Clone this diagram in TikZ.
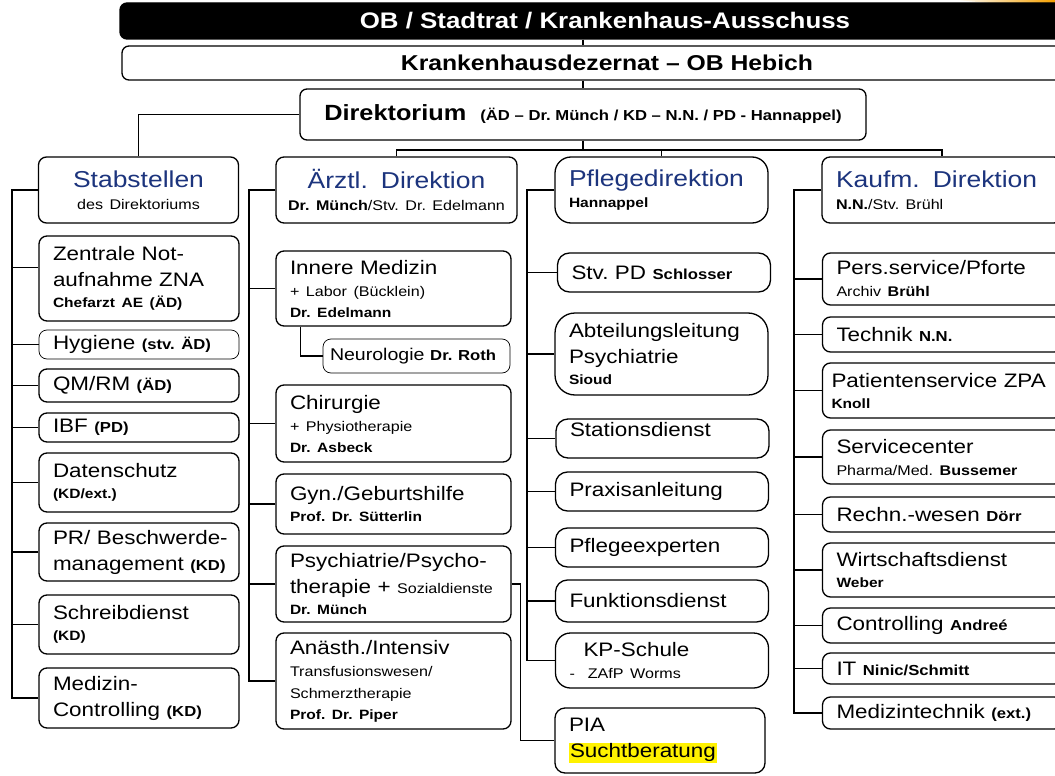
\documentclass[tikz,border=0pt]{standalone}
\usepackage{fontspec}
\setmainfont{Liberation Sans}[FakeStretch=1.15]

\definecolor{headblue}{RGB}{28,52,125}
\definecolor{logoorange}{RGB}{245,160,0}

% font sizes
\newcommand{\titlefs}{\fontsize{22.5}{27}\selectfont\bfseries}
\newcommand{\mainfs}{\fontsize{19.5}{26}\selectfont}
\newcommand{\subfs}{\fontsize{14}{22}\selectfont}
\newcommand{\namefs}{\fontsize{13.5}{21}\selectfont\bfseries}
\newcommand{\tagfs}{\fontsize{14.5}{18}\selectfont\bfseries}
\newcommand{\headfs}{\fontsize{23}{28}\selectfont\color{headblue}}

\tikzset{
  bar/.style={draw, line width=1.3pt, rounded corners=7pt, minimum width=970pt, font=\titlefs},
  unit/.style={draw, line width=1.3pt, rounded corners=8pt, fill=white, align=left,
    inner xsep=14pt, inner ysep=2pt, font=\mainfs},
  colA/.style={unit, minimum width=200pt, text width=172pt},
  colB/.style={unit, minimum width=235pt, text width=207pt},
  colC/.style={unit, minimum width=213pt, text width=185pt, rounded corners=12pt},
  colD/.style={unit, minimum width=240pt, text width=212pt},
  thinunit/.style={line width=0.7pt},
  link/.style={line width=1.3pt}
}

\begin{document}
\begin{tikzpicture}[x=1pt, y=-1pt]
  % Page frame
  \useasboundingbox (0,0) rectangle (1055,776);
  \clip (0,0) rectangle (1055,776);

  % Corner of the logo
  \shade[left color=white, right color=logoorange] (955,0) .. controls (1000,4) .. (1055,4) -- (1055,0) -- cycle;

  % Top levels
  \node[bar, fill=black, text=white, minimum height=36pt] (ob) at (605,21) {OB~/~Stadtrat~/~Krankenhaus-Ausschuss};
  \node[bar, fill=white, minimum height=34pt, font=\fontsize{21.5}{26}\selectfont\bfseries] (dez) at (607,63)
    {Krankenhausdezernat~–~OB~Hebich};
  \node[bar, fill=white, minimum width=566pt, minimum height=51pt, font=\fontsize{22}{26}\selectfont\bfseries] (dir) at (583,114.5)
    {Direktorium~~{\fontsize{14.5}{18}\selectfont(ÄD~–~Dr.~Münch~/~KD~–~N.N.~/~PD~-~Hannappel)}};

  \draw[link] (ob.south -| dir.north) -- (dez.north -| dir.north);
  \draw[link] (dez.south -| dir.north) -- (dir.north);

  % Heads of the four columns
  \node[colA, align=center, minimum height=66pt] (stab) at (138.5,190)
    {{\headfs Stabstellen\par}{\subfs des~Direktoriums\par}};
  \node[colB, align=center, minimum width=241pt, text width=231pt, inner xsep=5pt, minimum height=66pt] (aerztl) at (396.5,190)
    {{\headfs Ärztl.~~Direktion\par}{\subfs\textbf{Dr.~Münch}/Stv.~Dr.~Edelmann\par}};
  \node[colC, rounded corners=16pt, minimum height=66pt] (pflege) at (661.5,190)
    {{\headfs Pflegedirektion\par}{\namefs Hannappel\par}};
  \node[colD, minimum height=66pt] (kaufm) at (942,190)
    {{\headfs Kaufm.~~Direktion\par}{\subfs\textbf{N.N.}/Stv.~Brühl\par}};

  \coordinate (bus) at (583,150);
  \draw[link] (dir.west) -| (stab.north);
  \draw[link] (dir.south) -- (bus);
  \draw[link] (aerztl.north) |- (bus) -| (kaufm.north);
  \draw[link] (pflege.north) -- (pflege.north |- bus);

  % Stabstellen
  \node[colA, minimum height=85pt] (zna) at (139,278.5)
    {Zentrale~Not-\par aufnahme~ZNA\par{\namefs Chefarzt~AE~(ÄD)\par}};
  \node[colA, thinunit, minimum height=29pt] (hyg) at (139,344.5) {Hygiene~{\tagfs(stv.~ÄD)}};
  \node[colA, minimum height=33pt] (qm) at (139,385.5) {QM/RM~{\tagfs(ÄD)}};
  \node[colA, minimum height=29pt] (ibf) at (139,427.5) {IBF~{\tagfs(PD)}};
  \node[colA, minimum height=59pt] (dsch) at (139,482.5) {Datenschutz\par{\namefs(KD/ext.)\par}};
  \node[colA, minimum height=58pt] (pr) at (139,552) {\mbox{PR/ Beschwerde-}\par management~{\tagfs(KD)}};
  \node[colA, minimum height=59pt] (schreib) at (139,624.5) {Schreibdienst\par{\namefs(KD)\par}};
  \node[colA, minimum height=60pt] (medctrl) at (139,698) {Medizin-\par Controlling~{\tagfs(KD)}};

  \coordinate (s1) at (12,190);
  \draw[link] (stab.west) -- (s1) |- (medctrl.west);
  \draw[link] ([yshift=11pt]zna.west) -- ([yshift=11pt]zna.west -| s1);
  \foreach \n in {hyg,qm,ibf,dsch,pr,schreib}
    \draw[link] (\n.west) -- (\n.west -| s1);

  % Aerztliche Direktion
  \node[colB, minimum height=75pt] (innere) at (393.5,288.5)
    {Innere~Medizin\par{\subfs +~Labor~(Bücklein)\par}{\namefs Dr.~Edelmann\par}};
  \node[unit, thinunit, minimum width=187pt, text width=173pt, inner xsep=7pt, minimum height=34pt,
    font=\fontsize{17}{20}\selectfont] (neuro) at (416.5,356) {Neurologie~{\tagfs Dr.~Roth}};
  \node[colB, minimum height=77pt] (chir) at (393.5,423.5)
    {Chirurgie\par{\subfs +~Physiotherapie\par}{\namefs Dr.~Asbeck\par}};
  \node[colB, minimum height=60pt] (gyn) at (393.5,504)
    {Gyn./Geburtshilfe\par{\namefs Prof.~Dr.~Sütterlin\par}};
  \node[colB, minimum height=76pt] (psych) at (393.5,584)
    {\mbox{Psychiatrie/Psycho-}\par therapie~+~{\subfs Sozialdienste}\par{\namefs Dr.~Münch\par}};
  \node[colB, minimum height=96pt] (anae) at (393.5,681)
    {Anästh./Intensiv\par{\subfs Transfusionswesen/\par Schmerztherapie\par}{\namefs Prof.~Dr.~Piper\par}};

  \coordinate (s2) at (249,190);
  \draw[link] (aerztl.west) -- (s2) |- (anae.west);
  \foreach \n in {innere,chir,gyn,psych}
    \draw[link] (\n.west) -- (\n.west -| s2);
  \draw[link] ([xshift=25pt]innere.south west) |- (neuro.west);

  % Pflegedirektion
  \node[colC, minimum height=39pt] (stvpd) at (664,272.5) {Stv.~PD~{\tagfs Schlosser}};
  \node[colC, rounded corners=20pt, minimum height=82pt] (abt) at (661.5,354)
    {Abteilungsleitung\par Psychiatrie\par{\namefs Sioud\par}};
  \node[colC, minimum height=39pt, text depth=19pt] (station) at (662.5,438.5) {Stationsdienst};
  \node[colC, minimum height=39pt] (praxis) at (662,491.5) {Praxisanleitung};
  \node[colC, minimum height=39pt] (experten) at (662,547.5) {Pflegeexperten};
  \node[colC, minimum height=42pt] (funktion) at (662,601) {Funktionsdienst};
  \node[colC, rounded corners=15pt, minimum height=55pt] (kpschule) at (662,660.5)
    {\hspace*{14pt}KP-Schule\par{\subfs -~~ZAfP~Worms\par}};
  \node[colC, rounded corners=10pt, minimum width=210pt, text width=182pt, minimum height=65pt] (pia) at (660,740.5)
    {PIA\par{\setlength{\fboxsep}{1pt}\colorbox{yellow}{Suchtberatung}\par}};

  \coordinate (s3) at (527,190);
  \draw[link] (pflege.west) -- (s3) |- (kpschule.west);
  \foreach \n in {stvpd,abt,station,praxis,experten,funktion}
    \draw[link] (\n.west) -- (\n.west -| s3);
  \draw[link] (psych.east) -- ++(9,0) |- (pia.west);

  % Kaufmaennische Direktion
  \node[colD, minimum height=52pt] (pers) at (942.5,279)
    {Pers.service/Pforte\par{\subfs Archiv~\textbf{Brühl}\par}};
  \node[colD, minimum height=35pt] (technik) at (942.5,334.5) {Technik~{\tagfs N.N.}};
  \node[colD, inner xsep=9pt, text width=222pt, minimum height=55pt] (patient) at (942.5,390.5)
    {Patientenservice~ZPA\par{\namefs Knoll\par}};
  \node[colD, minimum height=54pt] (service) at (942.5,457)
    {Servicecenter\par{\subfs Pharma/Med.~\textbf{Bussemer}\par}};
  \node[colD, minimum height=35pt] (rechn) at (942.5,514.5) {Rechn.-wesen~{\tagfs Dörr}};
  \node[colD, minimum height=54pt] (wirt) at (942.5,570) {Wirtschaftsdienst\par{\namefs Weber\par}};
  \node[colD, minimum height=35pt] (ctrl) at (942.5,625.5) {Controlling~{\tagfs Andreé}};
  \node[colD, minimum height=31pt] (it) at (942.5,668.5) {IT~{\tagfs Ninic/Schmitt}};
  \node[colD, minimum height=32pt] (medtech) at (942.5,713) {Medizintechnik~{\tagfs(ext.)}};

  \coordinate (s4) at (794,190);
  \draw[link] (kaufm.west) -- (s4) |- (medtech.west);
  \foreach \n in {pers,technik,patient,service,rechn,wirt,ctrl,it}
    \draw[link] (\n.west) -- (\n.west -| s4);
\end{tikzpicture}
\end{document}
